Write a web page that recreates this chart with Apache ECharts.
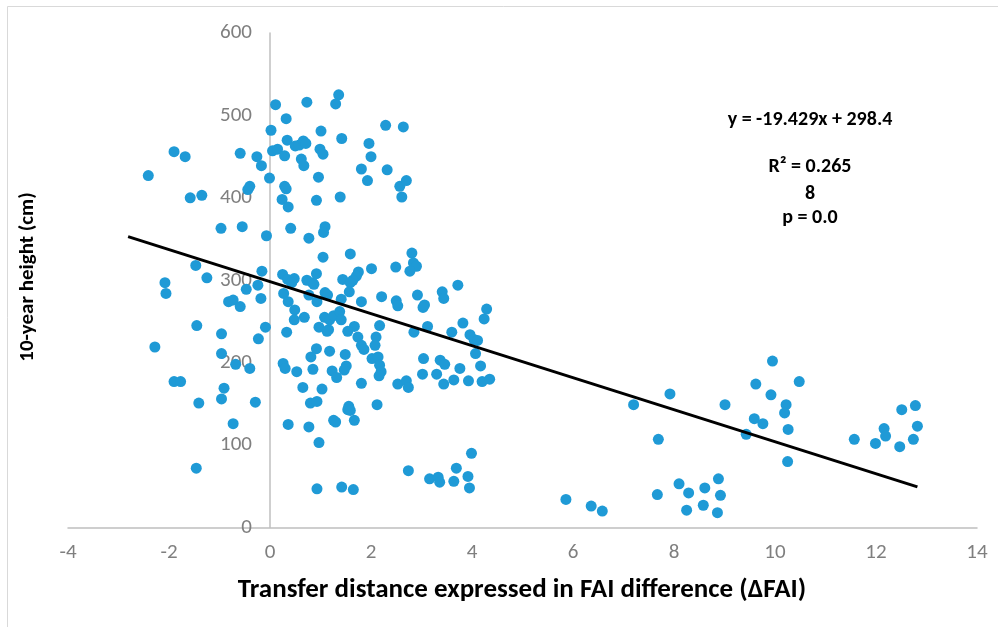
<!DOCTYPE html>
<html>
<head>
<meta charset="utf-8">
<script src="https://cdn.jsdelivr.net/npm/echarts@6/dist/echarts.min.js"></script>
<style>
  html, body { margin: 0; padding: 0; background: #ffffff; }
  #chart { width: 998px; height: 627px; }
</style>
</head>
<body>
<div id="chart"></div>
<script>
// Transfer distance (ΔFAI) of each provenance and its 10-year height (cm)
const faiDiff = [
  -1.90,-1.68,-0.59,-2.41,-0.40,-0.44,-1.58,-1.35,-0.97,-0.55,
  -1.47,-1.25,-2.08,-2.06,-0.47,-0.82,-0.73,-0.59,-1.45,-0.96,
  -2.28,-0.96,-0.68,-0.40,-1.90,-1.77,-0.91,-0.96,-1.41,-0.73,
  -1.46,-0.29,
  1.36,1.30,0.11,0.73,0.32,0.02,1.01,1.42,2.29,2.64,
  0.34,0.50,0.58,0.66,0.71,0.05,0.15,0.29,0.62,0.67,
  0.99,1.05,1.96,2.00,1.81,1.93,2.32,2.57,2.70,2.61,
  -0.26,-0.17,-0.01,0.29,0.32,0.96,0.24,0.36,0.92,1.39,
  0.41,-0.07,0.77,1.09,1.06,
  1.05,1.59,2.81,2.84,2.90,2.77,2.49,2.01,-0.16,0.25,
  0.35,0.48,0.43,0.92,0.73,0.84,0.87,1.44,1.75,1.71,
  1.64,1.59,-0.24,-0.18,0.27,0.36,0.77,0.93,1.09,1.14,
  1.41,1.57,1.81,2.21,2.50,2.53,2.92,3.06,3.03,3.41,
  3.44,3.72,4.29,4.24,3.82,3.60,3.96,4.04,4.11,4.07,
  3.12,2.85,2.17,2.10,2.08,0.49,0.48,0.68,0.33,-0.23,
  -0.09,0.97,1.08,1.18,1.26,1.16,1.13,1.38,1.41,1.67,
  1.54,1.74,1.81,1.86,0.92,0.81,1.18,1.49,0.26,0.30,
  0.53,0.85,1.23,1.32,1.51,1.47,2.02,2.14,2.17,2.20,
  2.16,2.53,2.70,2.74,3.04,3.02,3.30,3.37,3.46,3.44,
  3.64,3.76,3.93,4.17,4.20,4.35,1.81,0.65,1.03,
  0.80,0.93,1.56,1.54,1.59,2.12,0.36,0.77,1.26,1.30,
  1.67,0.97,0.93,1.42,1.65,2.74,3.16,3.33,3.36,3.64,
  3.69,3.92,3.95,3.99,
  7.20,7.92,7.69,9.01,9.95,9.62,10.48,9.92,10.22,10.19,
  9.59,9.76,10.26,9.43,10.25,11.57,11.99,12.16,12.19,12.47,
  12.51,12.78,12.82,12.74,5.86,6.36,6.58,7.67,8.10,8.29,
  8.25,8.61,8.58,8.88,8.92,8.86
];
const height10 = [
  456,450,454,427,414,410,400,403,363,365,
  318,303,297,284,289,274,276,268,245,235,
  219,211,198,193,177,177,169,156,151,126,
  72,152,
  525,514,513,516,496,482,481,472,488,486,
  470,463,464,469,466,457,459,451,447,439,
  459,453,466,450,435,421,434,414,421,401,
  450,439,424,414,411,425,398,389,397,401,
  363,354,351,365,358,
  328,332,333,321,317,311,316,314,311,307,
  301,302,297,308,300,297,295,301,310,305,
  300,297,294,278,284,274,282,274,285,282,
  277,286,274,280,275,269,282,270,267,286,
  278,294,265,253,248,237,234,228,227,211,
  244,237,245,231,221,264,252,255,237,229,
  243,243,255,252,257,240,238,262,252,244,
  238,231,221,216,217,207,214,210,199,193,
  189,192,190,182,196,191,205,207,197,189,
  184,174,178,170,205,186,186,203,198,174,
  179,193,178,196,177,180,175,170,168,
  151,153,147,143,142,149,125,122,130,128,
  130,103,47,49,46,69,59,61,55,56,
  72,62,48,90,
  149,162,107,149,202,174,177,161,149,139,
  132,126,119,113,80,107,102,120,111,98,
  143,148,123,107,34,26,20,40,53,42,
  21,48,27,59,39,18
];

// Axis ticks
const xTicks = [-4, -2, 0, 2, 4, 6, 8, 10, 12, 14];
const yTicks = [0, 100, 200, 300, 400, 500, 600];

// Linear trend line and its statistics
const trendSlope = -19.429;
const trendIntercept = 298.4;
const trendSpan = [-2.81, 12.82];
const statLines = ['y = -19.429x + 298.4', 'R\u00b2 = 0.265', '8', 'p = 0.0'];

const xTitle = 'Transfer distance expressed in FAI difference (\u0394FAI)';
const yTitle = '10-year height (cm)';

const FONT = "Carlito, 'Liberation Sans', Arial, sans-serif";
const POINT_COLOR = '#1f9ad6';
const AXIS_COLOR = '#bfbfbf';
const LABEL_COLOR = '#7f7f7f';

const GRID = { left: 68, right: 21, top: 33, bottom: 99.5 };
const CHART_W = 998;

const points = faiDiff.map((x, i) => [x, height10[i]]);
const trendPoints = trendSpan.map(x => [x, trendSlope * x + trendIntercept]);

// The vertical axis crosses the horizontal one at x = 0, labels included
const xMin = xTicks[0], xMax = xTicks[xTicks.length - 1];
const gridWidth = CHART_W - GRID.left - GRID.right;
const yAxisShift = -(0 - xMin) / (xMax - xMin) * gridWidth;

const chart = echarts.init(document.getElementById('chart'), null, { renderer: 'canvas' });

const statY = [120, 167, 194, 218];

chart.setOption({
  animation: false,
  backgroundColor: '#ffffff',
  grid: {
    left: GRID.left, right: GRID.right, top: GRID.top, bottom: GRID.bottom,
    containLabel: false,
    outerBoundsMode: 'none'
  },
  xAxis: {
    type: 'value',
    min: xMin,
    max: xMax,
    interval: xTicks[1] - xTicks[0],
    splitLine: { show: false },
    axisTick: { show: false },
    axisLine: { show: true, onZero: false, lineStyle: { color: AXIS_COLOR, width: 1.5 } },
    axisLabel: { color: LABEL_COLOR, fontFamily: FONT, fontSize: 21, margin: 15, showMinLabel: true, showMaxLabel: true }
  },
  yAxis: {
    type: 'value',
    position: 'left',
    offset: yAxisShift,
    min: yTicks[0],
    max: yTicks[yTicks.length - 1],
    interval: yTicks[1] - yTicks[0],
    splitLine: { show: false },
    axisTick: { show: false },
    axisLine: { show: true, onZero: false, lineStyle: { color: AXIS_COLOR, width: 1.5 } },
    axisLabel: { color: LABEL_COLOR, fontFamily: FONT, fontSize: 21, margin: 18, showMinLabel: true, showMaxLabel: true }
  },
  series: [
    {
      type: 'scatter',
      data: points,
      symbol: 'circle',
      symbolSize: 11,
      itemStyle: { color: POINT_COLOR, opacity: 1 },
      silent: true,
      z: 2
    },
    {
      type: 'line',
      data: trendPoints,
      symbol: 'none',
      lineStyle: { color: '#000000', width: 3 },
      silent: true,
      z: 3
    }
  ],
  graphic: [
    {
      type: 'rect',
      shape: { x: 7.5, y: 6.5, width: 1000, height: 700 },
      style: { fill: 'none', stroke: '#d9d9d9', lineWidth: 1 },
      silent: true
    },
    {
      type: 'text',
      x: 522, y: 590,
      style: {
        text: xTitle, fill: '#000000', font: 'bold 27px ' + FONT,
        textAlign: 'center', textVerticalAlign: 'middle'
      }
    },
    {
      type: 'text',
      x: 28, y: 277,
      rotation: Math.PI / 2,
      style: {
        text: yTitle, fill: '#000000', font: 'bold 21px ' + FONT,
        textAlign: 'center', textVerticalAlign: 'middle'
      }
    }
  ].concat(statLines.map((t, i) => ({
    type: 'text',
    x: 810, y: statY[i],
    style: {
      text: t, fill: '#000000', font: 'bold 20px ' + FONT,
      textAlign: 'center', textVerticalAlign: 'middle'
    }
  })))
});
</script>
</body>
</html>
